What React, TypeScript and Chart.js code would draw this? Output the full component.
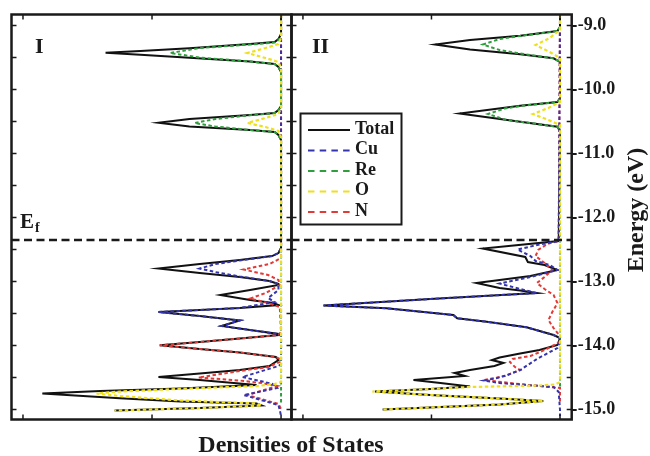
import React, { useEffect, useRef } from "react";
import { Chart, registerables } from "chart.js";

Chart.register(...registerables);

const SERIF = "'Liberation Serif', 'Times New Roman', 'DejaVu Serif', serif";

type Pair = [number, number]; // [energy (eV), density of states]

const seriesNames = ["Total", "Cu", "Re", "O", "N"];
const seriesColors = ["#111111", "#3434ae", "#2f9e3c", "#efe01e", "#e23a36"];
const energyTickLabels = [-9, -10, -11, -12, -13, -14, -15];
const energyMinorTicks = [-9, -9.5, -10, -10.5, -11, -11.5, -12, -12.5, -13, -13.5, -14, -14.5, -15];
const dosTicks = [0, 1, 2];
const fermiLevel = -12.352;
const energyMin = -15.156;
const energyMax = -8.828;

// ---------- Panel I ----------
const totalI: Pair[] = [
  [-8.828, 0],
  [-9.133, 0], [-9.211, 0.02], [-9.258, 0.05], [-9.289, 0.24], [-9.356, 0.71], [-9.398, 1.09], [-9.427, 1.36],
  [-9.455, 1.09], [-9.505, 0.71], [-9.563, 0.24], [-9.602, 0.05], [-9.648, 0.02], [-9.727, 0],
  [-10.258, 0], [-10.32, 0.02], [-10.367, 0.05], [-10.398, 0.24], [-10.461, 0.71], [-10.52, 0.95],
  [-10.578, 0.71], [-10.633, 0.24], [-10.664, 0.05], [-10.711, 0.02], [-10.789, 0],
  [-12.477, 0], [-12.555, 0.02], [-12.602, 0.07], [-12.664, 0.32], [-12.727, 0.63], [-12.797, 0.95],
  [-12.867, 0.63], [-12.93, 0.32], [-12.992, 0.09], [-13.039, 0.02],
  [-13.055, 0.02], [-13.133, 0.24], [-13.211, 0.47], [-13.289, 0.24], [-13.336, 0.06],
  [-13.367, 0.02], [-13.414, 0.32], [-13.445, 0.63], [-13.477, 0.95], [-13.539, 0.63], [-13.609, 0.32],
  [-13.695, 0.46], [-13.758, 0.24], [-13.82, 0.02],
  [-13.836, 0.02], [-13.891, 0.32], [-13.945, 0.63], [-13.997, 0.94], [-14.055, 0.63], [-14.109, 0.32],
  [-14.18, 0.04], [-14.227, 0.02],
  [-14.32, 0.09], [-14.383, 0.32], [-14.438, 0.63], [-14.492, 0.95], [-14.539, 0.63], [-14.617, 0.19],
  [-14.672, 0.78], [-14.711, 1.4], [-14.75, 1.85], [-14.825, 1.25], [-14.875, 0.78], [-14.906, 0.19],
  [-14.938, 0.15], [-14.977, 0.63], [-15.016, 1.29],
];
const cuI: Pair[] = [
  [-8.828, 0], [-12.477, 0], [-12.555, 0.02], [-12.602, 0.07], [-12.672, 0.32], [-12.727, 0.51], [-12.797, 0.63],
  [-12.852, 0.51], [-12.922, 0.32], [-12.992, 0.09], [-13.039, 0.02],
  [-13.133, 0.02], [-13.258, 0.1], [-13.32, 0.05],
  [-13.414, 0.32], [-13.445, 0.63], [-13.477, 0.95], [-13.539, 0.63], [-13.609, 0.32], [-13.695, 0.46],
  [-13.758, 0.24], [-13.82, 0.02],
  [-13.852, 0], [-14.289, 0], [-14.32, 0.02], [-14.492, 0.3], [-14.602, 0.06], [-14.664, 0.03], [-14.773, 0.29],
  [-14.93, 0.02], [-15.008, 0.01], [-15.1, 0],
];
const reI: Pair[] = [
  [-8.828, 0], [-9.164, 0], [-9.227, 0.02], [-9.266, 0.05], [-9.297, 0.24], [-9.352, 0.63], [-9.43, 0.86],
  [-9.5, 0.63], [-9.563, 0.24], [-9.602, 0.05], [-9.648, 0.02], [-9.727, 0],
  [-10.258, 0], [-10.32, 0.02], [-10.367, 0.05], [-10.403, 0.24], [-10.461, 0.51], [-10.523, 0.67],
  [-10.578, 0.51], [-10.633, 0.24], [-10.664, 0.05], [-10.711, 0.02], [-10.789, 0],
  [-14.93, 0],
];
const oI: Pair[] = [
  [-8.828, 0], [-9.195, 0], [-9.289, 0.02], [-9.352, 0.12], [-9.43, 0.26], [-9.508, 0.12], [-9.57, 0.02], [-9.664, 0],
  [-10.289, 0], [-10.383, 0.02], [-10.445, 0.12], [-10.523, 0.26], [-10.586, 0.12], [-10.648, 0.02], [-10.742, 0],
  [-14.57, 0], [-14.602, 0.05], [-14.633, 0.19], [-14.677, 0.78], [-14.719, 1.25], [-14.75, 1.43], [-14.789, 1.25],
  [-14.859, 0.78], [-14.906, 0.19], [-14.938, 0.15], [-14.977, 0.63], [-15.016, 1.29],
];
const nI: Pair[] = [
  [-8.828, 0], [-12.633, 0], [-12.727, 0.09], [-12.813, 0.29], [-12.898, 0.1], [-12.977, 0.02],
  [-13.055, 0.01], [-13.18, 0.12], [-13.266, 0.24], [-13.336, 0.1], [-13.398, 0.01],
  [-13.789, 0], [-13.836, 0.02], [-13.891, 0.32], [-13.945, 0.63], [-13.997, 0.94], [-14.055, 0.63],
  [-14.109, 0.32], [-14.18, 0.04], [-14.211, 0.01],
  [-14.258, 0.01], [-14.336, 0.1], [-14.398, 0.32], [-14.5, 0.64], [-14.547, 0.32], [-14.586, 0.15], [-14.633, 0.03],
  [-14.773, 0.26], [-14.914, 0.02], [-14.992, 0],
];

// ---------- Panel II ----------
const totalII: Pair[] = [
  [-8.828, 0], [-9.023, 0], [-9.086, 0.02], [-9.159, 0.31], [-9.227, 0.7], [-9.297, 0.97], [-9.375, 0.7],
  [-9.45, 0.31], [-9.513, 0.05], [-9.57, 0],
  [-10.133, 0], [-10.195, 0.02], [-10.253, 0.31], [-10.375, 0.78], [-10.503, 0.31], [-10.581, 0.02], [-10.648, 0],
  [-12.367, 0.01], [-12.484, 0.6], [-12.617, 0.27], [-12.695, 0.25], [-12.742, 0.12], [-12.82, 0.02],
  [-12.914, 0.23], [-13.023, 0.65], [-13.102, 0.47], [-13.141, 0.31], [-13.18, 0.18],
  [-13.273, 1.01], [-13.375, 1.84], [-13.419, 1.35], [-13.523, 0.83], [-13.575, 0.8], [-13.628, 0.57],
  [-13.716, 0.26], [-13.836, 0.05], [-13.883, 0],
  [-13.992, 0.02], [-14.07, 0.16], [-14.125, 0.31], [-14.188, 0.47], [-14.227, 0.53], [-14.273, 0.44],
  [-14.32, 0.51], [-14.383, 0.7], [-14.43, 0.82], [-14.477, 0.74], [-14.539, 1.14], [-14.586, 0.93], [-14.641, 0.7],
  [-14.68, 1.01], [-14.719, 1.44], [-14.773, 1.01], [-14.828, 0.47], [-14.867, 0.13], [-14.922, 0.47],
  [-14.961, 0.93], [-15.0, 1.38],
];
const cuII: Pair[] = [
  [-8.828, 0], [-12.367, 0.01], [-12.422, 0.16], [-12.5, 0.33], [-12.602, 0.23], [-12.68, 0.19], [-12.742, 0.08],
  [-12.82, 0.02], [-12.93, 0.23], [-13.031, 0.47], [-13.117, 0.31], [-13.18, 0.18],
  [-13.273, 1.01], [-13.375, 1.84], [-13.419, 1.35], [-13.523, 0.83], [-13.575, 0.8], [-13.628, 0.57],
  [-13.716, 0.26], [-13.836, 0.05], [-13.883, 0],
  [-13.945, 0], [-14.039, 0.02], [-14.211, 0.18], [-14.383, 0.31], [-14.461, 0.41], [-14.508, 0.49],
  [-14.547, 0.59], [-14.586, 0.47], [-14.617, 0.26], [-14.648, 0.05], [-14.727, 0.01], [-15.008, 0], [-15.1, 0],
];
const reII: Pair[] = [
  [-8.828, 0], [-9.023, 0], [-9.086, 0.02], [-9.164, 0.31], [-9.211, 0.47], [-9.297, 0.6], [-9.383, 0.47],
  [-9.438, 0.31], [-9.513, 0.05], [-9.57, 0],
  [-10.133, 0], [-10.195, 0.02], [-10.258, 0.31], [-10.297, 0.43], [-10.383, 0.56], [-10.469, 0.43],
  [-10.503, 0.31], [-10.581, 0.02], [-10.648, 0],
  [-14.66, 0],
];
const oII: Pair[] = [
  [-8.828, 0], [-9.07, 0], [-9.195, 0.08], [-9.305, 0.19], [-9.414, 0.08], [-9.508, 0],
  [-10.195, 0], [-10.289, 0.09], [-10.383, 0.21], [-10.477, 0.09], [-10.555, 0],
  [-14.57, 0], [-14.609, 0.04], [-14.625, 0.16], [-14.648, 0.7], [-14.68, 1.01], [-14.719, 1.46], [-14.773, 1.01],
  [-14.828, 0.47], [-14.867, 0.13], [-14.922, 0.47], [-14.961, 0.93], [-15.0, 1.38],
];
const nII: Pair[] = [
  [-8.828, 0], [-12.367, 0.01], [-12.414, 0.1], [-12.508, 0.17], [-12.602, 0.19], [-12.711, 0.12], [-12.82, 0.06],
  [-12.93, 0.12], [-13.023, 0.18], [-13.117, 0.12], [-13.211, 0.05], [-13.336, 0.02], [-13.477, 0.06],
  [-13.602, 0.09], [-13.727, 0.05], [-13.852, 0],
  [-13.945, 0], [-14.07, 0.12], [-14.164, 0.23], [-14.211, 0.37], [-14.258, 0.39], [-14.336, 0.35],
  [-14.383, 0.31], [-14.477, 0.43], [-14.539, 0.59], [-14.586, 0.39], [-14.633, 0.16], [-14.664, 0], [-14.9, 0],
];

// styles
const seriesWidths = [2, 2, 2, 2.2, 2];
const seriesDashes = [[], [3.5, 2.5], [3.5, 2.5], [3.5, 2.5], [3.5, 2.5]];
const seriesOrder = [5, 3, 2, 1, 4];

type PanelCfg = {
  name: string;
  series: Pair[][];
  dosMin: number;
  dosMax: number;
  padding: { left: number; right: number; top: number; bottom: number };
  axis: boolean;
  labelX: number;
};

const panelCfgs: PanelCfg[] = [
  { name: "I", series: [totalI, cuI, reI, oI, nI], dosMin: -0.081, dosMax: 2.089,
    padding: { left: 11.5, right: 358.5, top: 14.5, bottom: 36.5 }, axis: false, labelX: 35 },
  { name: "II", series: [totalII, cuII, reII, oII, nII], dosMin: -0.091, dosMax: 2.089,
    padding: { left: 291.5, right: 0, top: 14.5, bottom: 36.5 }, axis: true, labelX: 312 },
];

function makeDecor(cfg: PanelCfg) {
  return {
    id: "dosDecor" + cfg.name,
    afterDatasetsDraw(chart: any) {
      const { ctx, chartArea: a } = chart;
      const xs = chart.scales.x;
      const ys = chart.scales.y;
      const ink = "#1a1a1a";
      ctx.save();
      ctx.strokeStyle = ink;
      ctx.fillStyle = ink;
      // Fermi level
      ctx.lineWidth = 2.5;
      ctx.setLineDash([8, 4.5]);
      const yf = ys.getPixelForValue(fermiLevel);
      ctx.beginPath();
      ctx.moveTo(a.left, yf);
      ctx.lineTo(a.right, yf);
      ctx.stroke();
      ctx.setLineDash([]);
      // inner ticks
      ctx.lineWidth = 1.5;
      ctx.beginPath();
      energyMinorTicks.forEach((e) => {
        const p = ys.getPixelForValue(e);
        ctx.moveTo(a.left, p);
        ctx.lineTo(a.left + 5, p);
        ctx.moveTo(a.right, p);
        ctx.lineTo(a.right - 5, p);
      });
      dosTicks.forEach((d) => {
        const p = xs.getPixelForValue(d);
        ctx.moveTo(p, a.top);
        ctx.lineTo(p, a.top + 5);
        ctx.moveTo(p, a.bottom);
        ctx.lineTo(p, a.bottom - 5);
      });
      ctx.stroke();
      // frame
      ctx.lineWidth = 2.5;
      ctx.strokeRect(a.left, a.top, a.right - a.left, a.bottom - a.top);
      // panel label
      ctx.textAlign = "left";
      ctx.textBaseline = "alphabetic";
      ctx.font = `bold 22px ${SERIF}`;
      ctx.fillText(cfg.name, cfg.labelX, 53);
      if (!cfg.axis) {
        ctx.font = `bold 21px ${SERIF}`;
        ctx.fillText("E", 20, 228);
        ctx.font = `bold 14px ${SERIF}`;
        ctx.fillText("f", 35, 232);
      } else {
        // legend
        ctx.lineWidth = 2;
        ctx.strokeRect(300.5, 113.5, 101, 111);
        ctx.font = `bold 18px ${SERIF}`;
        ctx.textBaseline = "middle";
        chart.data.datasets.forEach((ds: any, i: number) => {
          const y = 130 + i * 20.5;
          ctx.strokeStyle = ds.borderColor;
          ctx.lineWidth = 2;
          ctx.setLineDash(i === 0 ? [] : [6.5, 5.2]);
          ctx.beginPath();
          ctx.moveTo(308, y);
          ctx.lineTo(350, y);
          ctx.stroke();
          ctx.setLineDash([]);
          ctx.fillStyle = ink;
          ctx.fillText(ds.label, 355, y - 1);
        });
        // axis titles
        ctx.font = `bold 24px ${SERIF}`;
        ctx.textAlign = "center";
        ctx.textBaseline = "alphabetic";
        ctx.fillText("Densities of States", 291, 452);
        ctx.save();
        ctx.translate(637, 210);
        ctx.rotate(-Math.PI / 2);
        ctx.textBaseline = "middle";
        ctx.fillText("Energy (eV)", 0, 0);
        ctx.restore();
      }
      ctx.restore();
    },
  };
}

function DosPanel({ cfg }: { cfg: PanelCfg }) {
  const ref = useRef<HTMLCanvasElement | null>(null);
  useEffect(() => {
    if (!ref.current) return;
    const yScale: any = {
      type: "linear",
      min: energyMin,
      max: energyMax,
      position: "right",
      display: cfg.axis,
      afterBuildTicks: (s: any) => {
        s.ticks = energyTickLabels.map((v) => ({ value: v }));
      },
      ticks: {
        callback: (v: any) => Number(v).toFixed(1),
        font: { family: SERIF, size: 18, weight: "bold" },
        color: "#1a1a1a",
        padding: 1,
        autoSkip: false,
      },
      grid: { drawOnChartArea: false, drawTicks: true, tickLength: 5, color: "#1a1a1a", lineWidth: 2 },
      border: { display: false },
    };
    if (cfg.axis) {
      yScale.afterFit = (s: any) => {
        s.width = 78.3;
      };
    }
    const chart = new Chart(ref.current, {
      type: "scatter",
      data: {
        datasets: seriesNames.map((name, i) => ({
          label: name,
          data: cfg.series[i].map(([e, d]) => ({ x: d, y: e })),
          showLine: true,
          borderColor: seriesColors[i],
          backgroundColor: seriesColors[i],
          borderWidth: seriesWidths[i],
          borderDash: seriesDashes[i],
          pointRadius: 0,
          tension: 0,
          order: seriesOrder[i],
        })),
      },
      options: {
        responsive: false,
        animation: false,
        events: [],
        layout: { padding: cfg.padding },
        plugins: { legend: { display: false }, tooltip: { enabled: false } },
        scales: {
          x: { type: "linear", min: cfg.dosMin, max: cfg.dosMax, reverse: true, display: false },
          y: yScale,
        },
      } as any,
      plugins: [makeDecor(cfg)],
    });
    return () => chart.destroy();
  }, []);
  return (
    <canvas
      ref={ref}
      width={650}
      height={456}
      style={{ position: "absolute", left: 0, top: 0, width: 650, height: 456 }}
    />
  );
}

export default function App() {
  return (
    <div style={{ position: "absolute", left: 0, top: 0, width: 650, height: 456, background: "#ffffff" }}>
      {panelCfgs.map((cfg) => (
        <DosPanel key={cfg.name} cfg={cfg} />
      ))}
    </div>
  );
}
